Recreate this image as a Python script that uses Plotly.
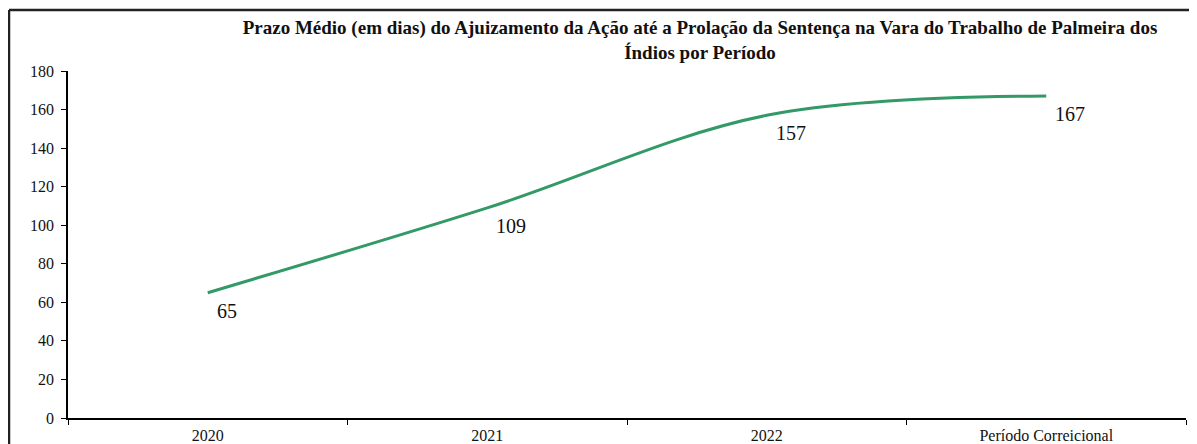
import plotly.graph_objects as go

categories = ["2020", "2021", "2022", "Período Correicional"]
prazo_medio = [65, 109, 157, 167]
y_ticks = [0, 20, 40, 60, 80, 100, 120, 140, 160, 180]

title_text = ("Prazo Médio (em dias) do Ajuizamento da Ação até a Prolação da Sentença na Vara do Trabalho de Palmeira dos"
              "<br>Índios por Período")

serif = "Liberation Serif"

W, H = 1189, 436          # page has an 8px body margin
L, T, R, B = 60, 63, 11, 26
PW, PH = W - L - R, H - T - B

fig = go.Figure()
fig.add_trace(go.Scatter(
    x=categories,
    y=prazo_medio,
    mode="lines",
    line=dict(color="#339966", width=3, shape="spline", smoothing=1.0),
    showlegend=False,
    hoverinfo="x+y",
))

# data labels: category axis positions are addressed by category index
for idx, val in enumerate(prazo_medio):
    fig.add_annotation(
        x=idx, y=val, xref="x", yref="y",
        text=str(val), showarrow=False,
        xanchor="left", yanchor="top",
        xshift=7, yshift=-5,
        font=dict(family=serif, size=20, color="#111111"),
    )

fig.update_layout(
    width=W,
    height=H,
    margin=dict(l=L, r=R, t=T, b=B, autoexpand=False),
    paper_bgcolor="white",
    plot_bgcolor="white",
    title=dict(
        text=title_text,
        x=692 / W,
        xanchor="center",
        xref="container",
        y=1 - 26 / H,
        yanchor="top",
        yref="container",
        font=dict(family=serif, size=19, color="#111111", weight="bold"),
    ),
    xaxis=dict(
        type="category",
        range=[-0.5, 3.5],
        showgrid=False,
        showline=True,
        linecolor="#000000",
        linewidth=1.5,
        ticks="outside",
        ticklen=5,
        tickcolor="#000000",
        tickson="boundaries",
        ticklabelstandoff=2,
        tickfont=dict(family=serif, size=16, color="#111111"),
        zeroline=False,
    ),
    yaxis=dict(
        range=[0, 180],
        tickmode="array",
        tickvals=y_ticks,
        ticktext=[str(v) for v in y_ticks],
        showgrid=False,
        showline=True,
        linecolor="#000000",
        linewidth=1.5,
        ticks="outside",
        ticklen=5,
        tickcolor="#000000",
        ticklabelstandoff=4,
        tickfont=dict(family=serif, size=16, color="#111111"),
        zeroline=False,
    ),
    shapes=[
        dict(type="line", xref="paper", yref="paper",
             x0=(1 - L) / PW, x1=(W + 5 - L) / PW,
             y0=(PH + T - 2) / PH, y1=(PH + T - 2) / PH,
             line=dict(color="#222222", width=2.5)),
        dict(type="line", xref="paper", yref="paper",
             x0=(1 - L) / PW, x1=(1 - L) / PW,
             y0=(PH + T - 2) / PH, y1=-B / PH - 0.05,
             line=dict(color="#222222", width=2.5)),
    ],
)

fig.write_html("out.html")
